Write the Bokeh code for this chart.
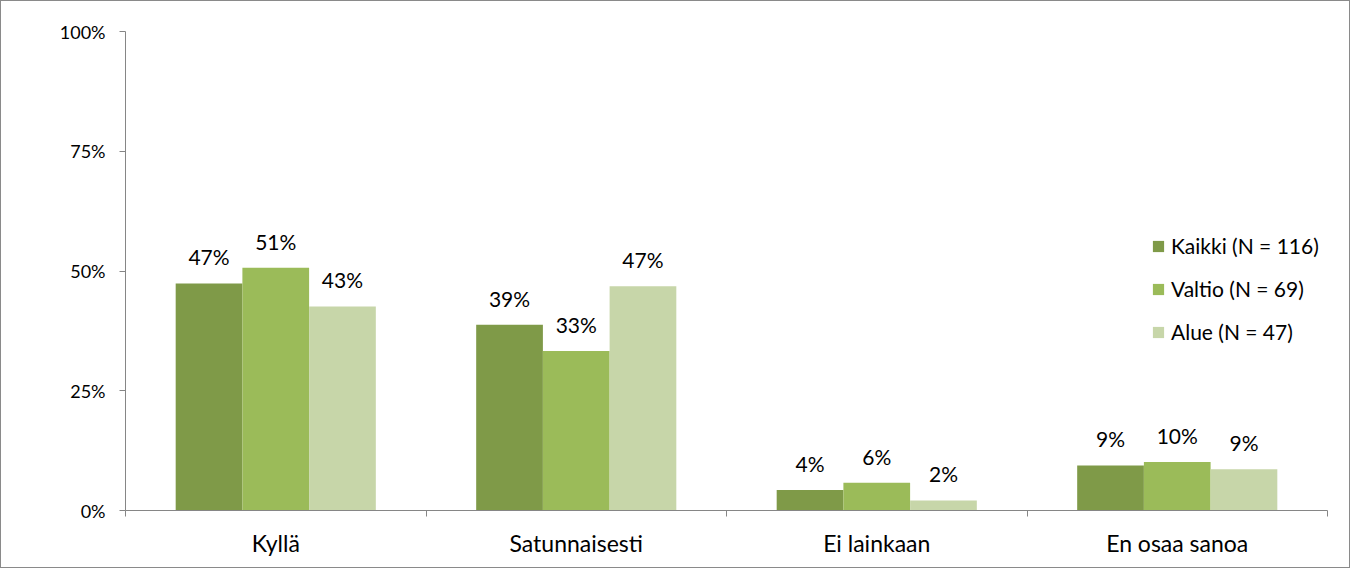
import numpy as np
from bokeh.plotting import figure
from bokeh.models import (ColumnDataSource, Range1d, FixedTicker, PrintfTickFormatter,
                          Legend, LegendItem, LinearAxis)
from bokeh.core.properties import value
from bokeh.embed import file_html
from bokeh.resources import INLINE

categories = ["Kyllä", "Satunnaisesti", "Ei lainkaan", "En osaa sanoa"]
series_names = ["Kaikki (N = 116)", "Valtio (N = 69)", "Alue (N = 47)"]
kaikki = [47.4, 38.8, 4.3, 9.4]
valtio = [50.7, 33.3, 5.8, 10.1]
alue = [42.6, 46.8, 2.1, 8.6]
kaikki_labels = ["47%", "39%", "4%", "9%"]
valtio_labels = ["51%", "33%", "6%", "10%"]
alue_labels = ["43%", "47%", "2%", "9%"]
y_ticks = [0, 25, 50, 75, 100]

colors = ["#7F9A48", "#9BBB59", "#C7D6A9"]
FONT = "Lato"
AXIS_COLOR = "#868686"

W, H = 1350, 568
p = figure(width=W, height=H, output_backend="svg", toolbar_location=None,
           x_range=Range1d(0, len(categories)), y_range=Range1d(0, 100),
           min_border_left=124, min_border_right=24, min_border_top=30,
           min_border_bottom=59, x_axis_location=None, y_axis_location=None,
           tools="")
p.styles = {"border": "1px solid #8a8a8a"}
p.outline_line_color = None
p.xgrid.visible = False
p.ygrid.visible = False
p.background_fill_color = "white"
p.border_fill_color = "white"

# y axis
yax = LinearAxis(ticker=FixedTicker(ticks=y_ticks, minor_ticks=[]),
                 formatter=PrintfTickFormatter(format="%d%%"))
yax.axis_line_color = AXIS_COLOR
yax.major_tick_line_color = AXIS_COLOR
yax.major_tick_out = 6
yax.major_tick_in = 0
yax.minor_tick_line_color = None
yax.major_label_text_font = FONT
yax.major_label_text_font_size = "18px"
yax.major_label_text_color = "#000000"
yax.major_label_standoff = 14
p.add_layout(yax, "left")

# x axis: labels at category centers, tick marks at boundaries
centers = [i + 0.5 for i in range(len(categories))]
bounds = [float(i) for i in range(len(categories) + 1)]
xax = LinearAxis(ticker=FixedTicker(ticks=centers, minor_ticks=bounds))
xax.major_label_overrides = {c: name for c, name in zip(centers, categories)}
xax.axis_line_color = AXIS_COLOR
xax.major_tick_line_color = None
xax.major_tick_out = 0
xax.major_tick_in = 0
xax.minor_tick_line_color = AXIS_COLOR
xax.minor_tick_out = 6
xax.minor_tick_in = 0
xax.major_label_text_font = FONT
xax.major_label_text_font_size = "23px"
xax.major_label_text_color = "#000000"
xax.major_label_standoff = 12
p.add_layout(xax, "below")

offsets = [-0.222, 0.0, 0.222]
bar_w = 0.222
base = np.arange(len(categories)) + 0.5
items = []
for vals, labs, off, col, name in zip([kaikki, valtio, alue],
                                      [kaikki_labels, valtio_labels, alue_labels],
                                      offsets, colors, series_names):
    src = ColumnDataSource(dict(x=base + off, top=vals, lab=labs))
    r = p.vbar(x="x", top="top", width=bar_w, bottom=0, source=src,
               fill_color=col, line_color=None)
    p.text(x="x", y="top", text="lab", source=src, text_align="center",
           text_baseline="bottom", y_offset=-14, text_font=value(FONT),
           text_font_size="21px", text_color="#000000")
    items.append(LegendItem(label=name, renderers=[r]))

legend = Legend(items=items, location=(1026, 166), orientation="vertical")
legend.label_text_font = FONT
legend.label_text_font_size = "21px"
legend.label_text_color = "#000000"
legend.glyph_width = 14
legend.glyph_height = 14
legend.label_height = 20
legend.label_standoff = 6
legend.spacing = 18
legend.padding = 5
legend.margin = 0
legend.border_line_color = None
legend.background_fill_alpha = 0
p.add_layout(legend, "center")

open("out.html", "w").write(file_html(p, INLINE))
